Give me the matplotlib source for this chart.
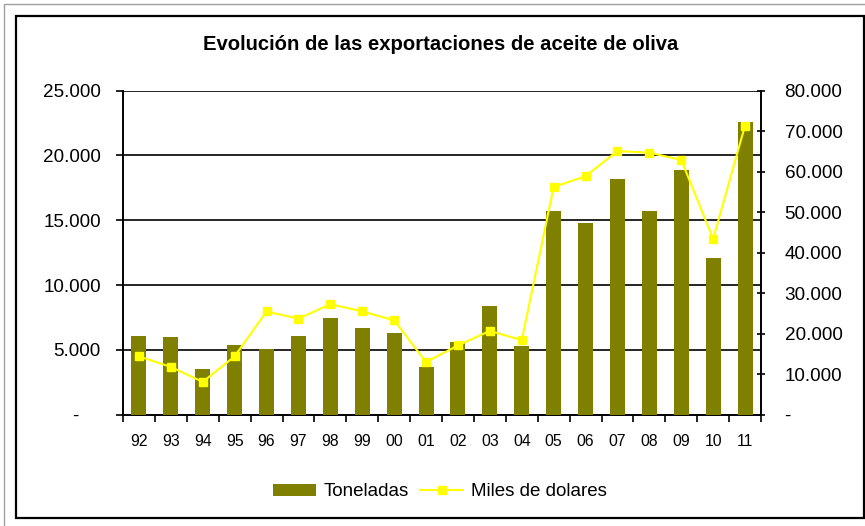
import numpy as np
import matplotlib.pyplot as plt
from matplotlib.patches import Rectangle

plt.rcParams['font.family'] = ['Liberation Sans', 'DejaVu Sans']

# Data
years = ['92', '93', '94', '95', '96', '97', '98', '99', '00', '01',
         '02', '03', '04', '05', '06', '07', '08', '09', '10', '11']
toneladas = [6100, 6000, 3500, 5400, 5100, 6100, 7500, 6700, 6300, 3700,
             5600, 8400, 5300, 15700, 14800, 18200, 15700, 18900, 12100, 22600]
miles_dolares = [14400, 11800, 8100, 14400, 25500, 23700, 27300, 25500, 23300, 13000,
                 17100, 20700, 18400, 56200, 58900, 65100, 64700, 62900, 43400, 71400]

left_ticks = [0, 5000, 10000, 15000, 20000, 25000]
left_labels = ['-    ', '5.000', '10.000', '15.000', '20.000', '25.000']
right_ticks = [0, 10000, 20000, 30000, 40000, 50000, 60000, 70000, 80000]
right_labels = ['-', '10.000', '20.000', '30.000', '40.000', '50.000',
                '60.000', '70.000', '80.000']

W, H = 865, 526
fig = plt.figure(figsize=(W / 100, H / 100), dpi=100)

# frames around the chart
fig.patches.append(Rectangle((4 / W, -0.1), 1.2, 1 - 4 / H + 0.1, transform=fig.transFigure,
                             fill=False, edgecolor='#a0a0a0', linewidth=1.0))
fig.patches.append(Rectangle((16 / W, 1 - 518 / H), (864 - 16) / W, (518 - 16) / H,
                             transform=fig.transFigure, fill=False,
                             edgecolor='black', linewidth=1.6))

ax = fig.add_axes([123 / W, 1 - 414.7 / H, (761 - 123) / W, (414.7 - 90.7) / H])
x = np.arange(len(years))

ax.bar(x, toneladas, width=0.47, color='#808000', zorder=3, label='Toneladas')
ax.set_ylim(0, 25000)
ax.set_xlim(-0.5, len(years) - 0.5)
ax.set_yticks(left_ticks)
ax.set_yticklabels(left_labels)
for v in left_ticks[1:]:
    ax.axhline(v, color='black', linewidth=1.2, zorder=1)

ax.set_xticks(x)
ax.set_xticklabels(years)
ax.set_xticks(np.arange(-0.5, len(years)), minor=True)
ax.tick_params(axis='x', which='major', length=0, pad=14, labelsize=11.3)
ax.tick_params(axis='x', which='minor', length=5, width=1.2, direction='out')
ax.tick_params(axis='y', length=5, width=1.2, direction='out', pad=11, labelsize=13.6)

for s in ['left', 'bottom']:
    ax.spines[s].set_linewidth(1.4)
ax.spines['top'].set_visible(False)
ax.spines['right'].set_visible(False)

ax2 = ax.twinx()
ax2.plot(x, miles_dolares, color='#ffff00', linewidth=1.5, marker='s',
         markersize=6, zorder=4, label='Miles de dolares')
ax2.set_ylim(0, 80000)
ax2.set_yticks(right_ticks)
ax2.set_yticklabels(right_labels)
ax2.tick_params(axis='y', length=6, width=1.2, direction='inout', pad=14, labelsize=13.6)
ax2.spines['right'].set_linewidth(1.4)
for s in ['left', 'top', 'bottom']:
    ax2.spines[s].set_visible(False)

fig.text(441 / W, 1 - 45 / H, 'Evolución de las exportaciones de aceite de oliva',
         ha='center', va='center', fontsize=14.6, fontweight='bold')

h1, l1 = ax.get_legend_handles_labels()
h2, l2 = ax2.get_legend_handles_labels()
fig.legend(h1 + h2, l1 + l2, loc='center', bbox_to_anchor=(440 / W, 1 - 492 / H),
           ncol=2, frameon=False, fontsize=13.5, handlelength=2.3,
           handletextpad=0.4, columnspacing=0.6, handleheight=0.6)

fig.savefig('out.png', dpi=100)
